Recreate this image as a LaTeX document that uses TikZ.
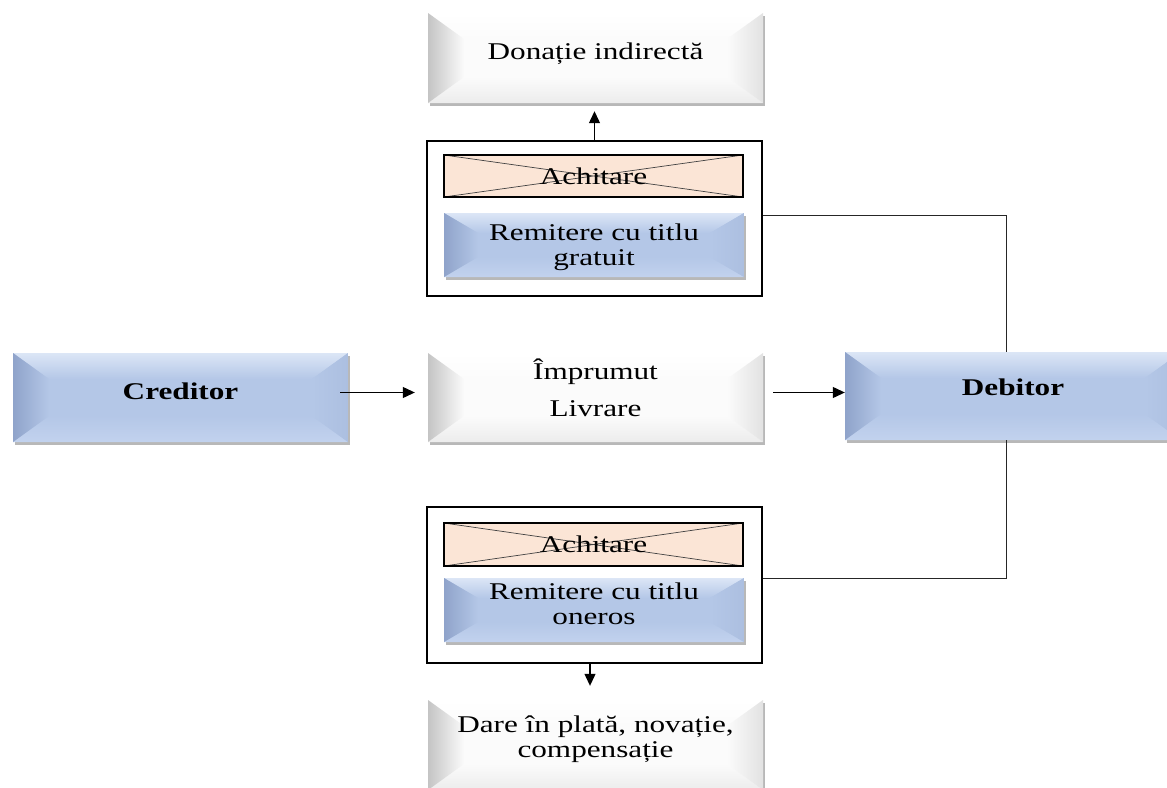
\documentclass[tikz,border=0pt]{standalone}
\usepackage{fontspec}
\setmainfont{Liberation Serif}[FakeStretch=1.3]
\usetikzlibrary{arrows.meta,calc,shadows}

\definecolor{bmain}{RGB}{180,199,231}
\definecolor{bdark}{RGB}{143,163,202}
\definecolor{btop}{RGB}{220,230,246}
\definecolor{bbot}{RGB}{194,210,238}
\definecolor{bright}{RGB}{172,191,224}
\definecolor{gmain}{RGB}{251,251,251}
\definecolor{gdark}{RGB}{196,196,196}
\definecolor{gtop}{RGB}{255,255,255}
\definecolor{gbot}{RGB}{236,236,236}
\definecolor{gright}{RGB}{226,226,226}
\definecolor{peach}{RGB}{251,229,214}

\tikzset{
  bev d/.store in=\bvD, bev t/.store in=\bvT,
  bev main/.store in=\bvMain, bev dark/.store in=\bvDark,
  bev top/.store in=\bvTop, bev bot/.store in=\bvBot, bev right/.store in=\bvRight,
  bev d=36pt, bev t=26pt,
  % bevelled box: four shaded facets round a flat face, with a soft shadow
  bevel/.style={rectangle, inner sep=0pt, fill=\bvMain,
    drop shadow={shadow xshift=2pt, shadow yshift=-3pt, fill=black, opacity=0.28},
    path picture={
      \coordinate (bvA) at (path picture bounding box.north west);
      \coordinate (bvB) at (path picture bounding box.north east);
      \coordinate (bvC) at (path picture bounding box.south east);
      \coordinate (bvE) at (path picture bounding box.south west);
      \shade[top color=\bvTop, bottom color=\bvMain]
        (bvA) -- (bvB) -- ($(bvB)+(-\bvD,-\bvT)$) -- ($(bvA)+(\bvD,-\bvT)$) -- cycle;
      \shade[top color=\bvMain, bottom color=\bvBot]
        (bvE) -- (bvC) -- ($(bvC)+(-\bvD,\bvT)$) -- ($(bvE)+(\bvD,\bvT)$) -- cycle;
      \shade[left color=\bvDark, right color=\bvMain]
        (bvA) -- ($(bvA)+(\bvD,-\bvT)$) -- ($(bvE)+(\bvD,\bvT)$) -- (bvE) -- cycle;
      \shade[left color=\bvMain, right color=\bvRight]
        (bvB) -- ($(bvB)+(-\bvD,-\bvT)$) -- ($(bvC)+(-\bvD,\bvT)$) -- (bvC) -- cycle;
    }},
  bluebox/.style={bev main=bmain, bev dark=bdark, bev top=btop, bev bot=bbot,
    bev right=bright, bevel},
  greybox/.style={bev main=gmain, bev dark=gdark, bev top=gtop, bev bot=gbot,
    bev right=gright, bevel},
  txt/.style={font=\fontsize{24}{25}\selectfont, align=center, inner sep=0pt},
  btxt/.style={font=\fontsize{24}{25}\selectfont\bfseries, align=center, inner sep=0pt},
  xbox/.style={rectangle, fill=peach, draw=black, line width=1.5pt, inner sep=0pt,
    font=\fontsize{24}{25}\selectfont,
    path picture={\draw[line width=0.7pt, black!75]
      (path picture bounding box.north west) -- (path picture bounding box.south east)
      (path picture bounding box.south west) -- (path picture bounding box.north east);}},
  frame/.style={rectangle, draw=black, line width=2pt, inner sep=0pt},
  arr/.style={line width=1.2pt, -{Triangle[length=12pt,width=11pt]}},
  ln/.style={line width=0.9pt, black!85}
}

\begin{document}
\begin{tikzpicture}[x=1pt, y=-1pt]
\useasboundingbox (0,0) rectangle (1167,787);
\clip (0,0) rectangle (1167,787);
\fill[white] (0,0) rectangle (1167,787);

% top result
\node[greybox, minimum width=335pt, minimum height=90pt] (don) at (595.5,58) {};
\node[txt] (donT) at ([yshift=4pt]don.center) {Donație indirectă};

% upper group
\node[frame, minimum width=335pt, minimum height=155pt] (upf) at (594.5,218.5) {};
\node[xbox, minimum width=299pt, minimum height=42pt] (ach1) at (593.5,176) {Achitare};
\node[bluebox, bev d=34pt, bev t=20pt, minimum width=300pt, minimum height=64pt] (rem1) at (594,245) {};
\node[txt] (rem1T) at ([yshift=-2pt]rem1.center) {Remitere cu titlu\\gratuit};

% middle row
\node[bluebox, minimum width=335pt, minimum height=89pt] (cred) at (180.5,397.5) {};
\node[btxt] (credT) at ([yshift=6.5pt]cred.center) {Creditor};
\node[greybox, minimum width=335pt, minimum height=89pt] (mid) at (595.5,397.5) {};
\node[txt] (midT) at ([yshift=9.5pt]mid.center) {Împrumut\\[12pt]Livrare};
\node[bluebox, minimum width=336pt, minimum height=88pt] (deb) at (1013,396) {};
\node[btxt] (debT) at ([yshift=9pt]deb.center) {Debitor};

% lower group
\node[frame, minimum width=335pt, minimum height=156pt] (lowf) at (594.5,585) {};
\node[xbox, minimum width=299pt, minimum height=43pt] (ach2) at (593.5,544.5) {Achitare};
\node[bluebox, bev d=34pt, bev t=20pt, minimum width=300pt, minimum height=64pt] (rem2) at (594,610) {};
\node[txt] (rem2T) at ([yshift=6pt]rem2.center) {Remitere cu titlu\\oneros};

% bottom result
\node[greybox, minimum width=335pt, minimum height=90pt] (bot) at (595.5,745) {};
\node[txt] (botT) at ([yshift=5.5pt]bot.center) {Dare în plată, novație,\\compensație};

% connectors
\coordinate (donTip) at ([yshift=-8pt]don.south);
\draw[arr] (upf.north) -- (upf.north |- donTip);
\draw[arr] ([xshift=-8pt,yshift=5pt]cred.east) -- ([xshift=-13pt,yshift=5pt]mid.west);
\draw[arr] ([xshift=10pt,yshift=5pt]mid.east) coordinate (m2) -- (m2 -| deb.west);
\draw[ln] ([yshift=3.5pt]upf.east) -| ([xshift=-7pt]deb.north);
\draw[ln] ([yshift=7pt]lowf.east) -| ([xshift=-7pt]deb.south);
\coordinate (lowOut) at ([xshift=-4.5pt]lowf.south);
\coordinate (botTip) at ([yshift=14pt]bot.north);
\draw[arr] (lowOut) -- (lowOut |- botTip);
\end{tikzpicture}
\end{document}
